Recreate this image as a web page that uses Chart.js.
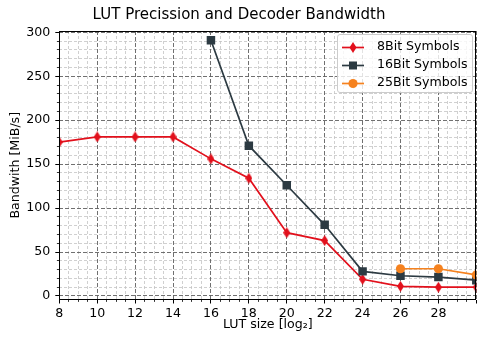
<!DOCTYPE html>
<html><head><meta charset="utf-8">
<script src="https://cdn.jsdelivr.net/npm/chart.js@4"></script>
<style>
html,body{margin:0;padding:0;background:#fff}
#wrap{position:relative;width:483px;height:338px}
#legend{position:absolute;left:337px;top:34px;width:136px;height:59px;box-sizing:border-box;border:1px solid #cccccc;border-radius:3px;background:rgba(255,255,255,0.8);font-family:'DejaVu Sans';font-size:12.6px;color:#000}
.item{position:absolute;left:0;width:134px;height:18px}
.item svg{position:absolute;left:3px;top:2px}
.item span{position:absolute;left:39px;top:1px;line-height:16px;white-space:nowrap}
</style>
</head><body>
<div id="wrap"><canvas id="c" width="483" height="338"></canvas>
<div id="legend"></div></div>
<script>
const lut8 = [8,10,12,14,16,18,20,22,24,26,28,30];
const bit8 = [175,181,181,181,156,134,72,63,19,11,10,10];
const lut16 = [16,18,20,22,24,26,28,30];
const bit16 = [291,171,126,81,28,23,21.5,18];
const lut25 = [26,28,30];
const bit25 = [31,31,24];
const seriesNames = ['8Bit Symbols','16Bit Symbols','25Bit Symbols'];
const xMajorTicks = [8,10,12,14,16,18,20,22,24,26,28,30];
const xTickLabels = ['8','10','12','14','16','18','20','22','24','26','28',''];
const yMajorTicks = [0,50,100,150,200,250,300];
const yTickLabels = ['0','50','100','150','200','250','300'];

const RED='#e2101c', DARK='#2c3a42', ORANGE='#f5821f';
const FONT={family:'DejaVu Sans',size:12.6};

function thinDiamond(w,h,color){const c=document.createElement('canvas');c.width=w;c.height=h;const g=c.getContext('2d');g.fillStyle=color;g.beginPath();g.moveTo(w/2,0);g.lineTo(w,h/2);g.lineTo(w/2,h);g.lineTo(0,h/2);g.closePath();g.fill();return c;}
const dia = thinDiamond(7,11,RED);

const minorX=[]; for(let v=8;v<=30.001;v+=0.5){ if(Math.abs(v/2-Math.round(v/2))>1e-6) minorX.push(v); }
const minorY=[]; for(let v=0;v<=300;v+=10){ if(v%50!==0) minorY.push(v); }

const framePlugin={id:'frame',afterDatasetsDraw(chart){const a=chart.chartArea,g=chart.ctx;g.save();g.strokeStyle='#000';g.lineWidth=1;g.strokeRect(Math.round(a.left)+0.5,Math.round(a.top)+0.5,Math.round(a.right)-Math.round(a.left)-1,Math.round(a.bottom)-Math.round(a.top)-1);g.restore();}};

const toXY=(xs,ys)=>xs.map((x,i)=>({x:x,y:ys[i]}));

new Chart(document.getElementById('c'),{
  type:'line',
  data:{datasets:[
    {label:seriesNames[0],data:toXY(lut8,bit8),borderColor:RED,backgroundColor:RED,borderWidth:1.7,pointStyle:dia,pointRadius:5,clip:0,order:3,tension:0},
    {label:seriesNames[1],data:toXY(lut16,bit16),borderColor:DARK,backgroundColor:DARK,borderWidth:1.7,pointStyle:'rect',pointRadius:6,pointBorderWidth:0,clip:0,order:2,tension:0},
    {label:seriesNames[2],data:toXY(lut25,bit25),borderColor:ORANGE,backgroundColor:ORANGE,borderWidth:1.7,pointStyle:'circle',pointRadius:4.6,pointBorderWidth:0,clip:0,order:1,tension:0}
  ]},
  options:{
    responsive:false,animation:false,
    layout:{padding:{left:0,right:5,top:0,bottom:0}},
    plugins:{legend:{display:false},tooltip:{enabled:false},
      title:{display:true,text:'LUT Precission and Decoder Bandwidth',color:'#000',font:{family:'DejaVu Sans',size:15,weight:'normal'},padding:{top:6.5,bottom:6.5}}},
    scales:{
      x:{type:'linear',position:'bottom',min:8,max:30,weight:1,
        afterFit:s=>{s.height=38.5;},
        afterBuildTicks:s=>{s.ticks=xMajorTicks.map(v=>({value:v}));},
        ticks:{callback:(v,i)=>xTickLabels[i],font:FONT,color:'#000',padding:3,maxRotation:0,autoSkip:false},
        grid:{color:'#606060',lineWidth:0.9,tickLength:4,tickColor:'#000',tickWidth:1,z:-1},
        border:{display:false,dash:[4,2]},
        title:{display:true,text:'LUT size [log₂]',color:'#000',font:FONT,padding:{top:0,bottom:5.6}}},
      x2:{type:'linear',position:'bottom',min:8,max:30,weight:0,
        afterFit:s=>{s.height=0;},
        afterBuildTicks:s=>{s.ticks=minorX.map(v=>({value:v}));},
        ticks:{display:false},
        grid:{color:'#c4c4c4',lineWidth:0.8,tickLength:2.4,tickColor:'#000',tickWidth:0.8,z:-2},
        border:{display:false,dash:[3,2]}},
      y:{type:'linear',position:'left',min:-4,max:301.5,weight:1,
        afterFit:s=>{s.width=59.3;},
        afterBuildTicks:s=>{s.ticks=yMajorTicks.map(v=>({value:v}));},
        ticks:{callback:(v,i)=>yTickLabels[i],font:FONT,color:'#000',padding:5,autoSkip:false},
        grid:{color:'#606060',lineWidth:0.9,tickLength:4,tickColor:'#000',tickWidth:1,z:-1},
        border:{display:false,dash:[4,2]},
        title:{display:true,text:'Bandwith [MiB/s]',color:'#000',font:FONT,padding:{top:8.4,bottom:0}}},
      y2:{type:'linear',position:'left',min:-4,max:301.5,weight:0,
        afterFit:s=>{s.width=0;},
        afterBuildTicks:s=>{s.ticks=minorY.map(v=>({value:v}));},
        ticks:{display:false},
        grid:{color:'#c4c4c4',lineWidth:0.8,tickLength:2.4,tickColor:'#000',tickWidth:0.8,z:-2},
        border:{display:false,dash:[3,2]}}
    }
  },
  plugins:[framePlugin]
});

// legend (HTML overlay)
const icons=[
  '<polygon points="11,3 14.5,8.5 11,14 7.5,8.5" fill="'+RED+'"/>',
  '<rect x="7" y="4.5" width="8" height="8" fill="'+DARK+'"/>',
  '<circle cx="11" cy="8.5" r="4.6" fill="'+ORANGE+'"/>'
];
const cols=[RED,DARK,ORANGE];
const rowTops=[1.5,20,38];
const lg=document.getElementById('legend');
seriesNames.forEach((n,i)=>{
  const d=document.createElement('div');d.className='item';d.style.top=rowTops[i]+'px';
  d.innerHTML='<svg width="24" height="17" viewBox="0 0 22 17"><line x1="0" y1="8.5" x2="22" y2="8.5" stroke="'+cols[i]+'" stroke-width="1.7"/>'+icons[i]+'</svg><span>'+n+'</span>';
  lg.appendChild(d);
});
</script>
</body></html>
